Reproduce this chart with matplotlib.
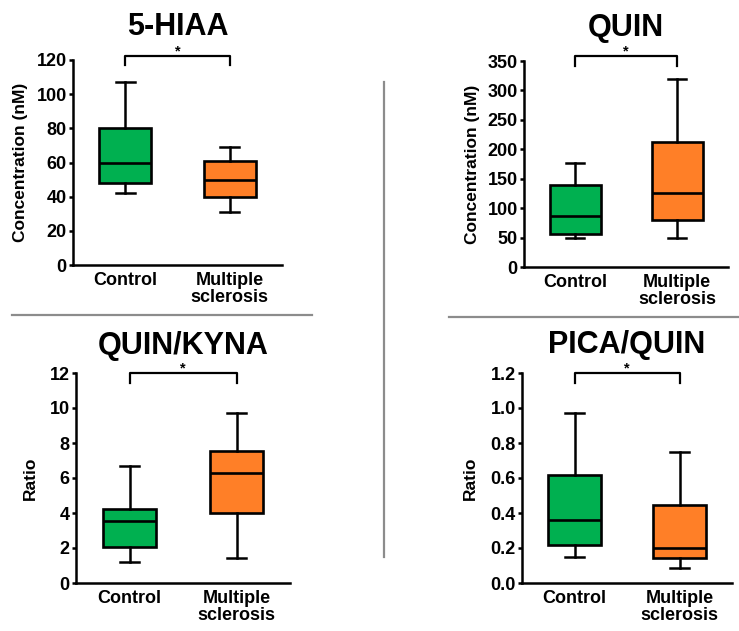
import matplotlib
matplotlib.use("Agg")
import matplotlib.pyplot as plt
from matplotlib.lines import Line2D
import matplotlib.transforms as mtransforms

plt.rcParams['font.family'] = ['Liberation Sans', 'DejaVu Sans']
plt.rcParams['font.weight'] = 'bold'

# ===== DONNEES ===== #
groups = ["Control", "Multiple\nsclerosis"]
colors = ["#00B050", "#FF7F27"]

titles = ["5-HIAA", "QUIN", "QUIN/KYNA", "PICA/QUIN"]
ylabels = ["Concentration (nM)", "Concentration (nM)", "Ratio", "Ratio"]
yticks = [
    [0, 20, 40, 60, 80, 100, 120],
    [0, 50, 100, 150, 200, 250, 300, 350],
    [0, 2, 4, 6, 8, 10, 12],
    [0.0, 0.2, 0.4, 0.6, 0.8, 1.0, 1.2],
]
ytick_fmt = ["{:.0f}", "{:.0f}", "{:.0f}", "{:.1f}"]

# whisker low, Q1, median, Q3, whisker high  -> [control, sclerose]
hiaa = [[42, 48, 60, 80, 107], [31, 40, 50, 61, 69]]
quin = [[50, 56, 87, 139, 177], [50, 80, 125, 213, 320]]
quin_kyna = [[1.2, 2.05, 3.55, 4.25, 6.7], [1.45, 4.0, 6.3, 7.55, 9.7]]
pica_quin = [[0.15, 0.22, 0.36, 0.62, 0.97], [0.085, 0.145, 0.2, 0.445, 0.75]]
datasets = [hiaa, quin, quin_kyna, pica_quin]

# ===== FIGURE ===== #
W, H = 739, 631
fig = plt.figure(figsize=(W / 100, H / 100), dpi=100)

# (gauche, droite, haut, bas) en pixels
boxes_px = [(73, 282, 60, 265), (524, 728, 61, 267),
            (76, 290, 373, 583), (522, 732, 373, 583)]
title_pad = [18, 18, 13.5, 14.5]
ylab_x = [-0.215, -0.216, -0.18, -0.21]
bracket_up = [4.5, 5, 0, 0]   # hauteur du crochet au-dessus des axes (px)


def make_panel(k):
    l, r, t, b = boxes_px[k]
    ax = fig.add_axes([l / W, (H - b) / H, (r - l) / W, (b - t) / H])

    stats = []
    for g, vals in enumerate(datasets[k]):
        lo, q1, med, q3, hi = vals
        stats.append(dict(whislo=lo, q1=q1, med=med, q3=q3, whishi=hi,
                          fliers=[], label=groups[g]))
    bp = ax.bxp(stats, positions=[1, 2], widths=0.5, patch_artist=True,
                showfliers=False, capwidths=0.18,
                boxprops=dict(linewidth=1.9, edgecolor="black"),
                medianprops=dict(color="black", linewidth=1.9),
                whiskerprops=dict(color="black", linewidth=1.8),
                capprops=dict(color="black", linewidth=1.8))
    for patch, c in zip(bp["boxes"], colors):
        patch.set_facecolor(c)

    ax.set_xlim(0.5, 2.5)
    ax.set_ylim(yticks[k][0], yticks[k][-1])
    ax.set_yticks(yticks[k])
    ax.set_yticklabels([ytick_fmt[k].format(v) for v in yticks[k]])
    ax.tick_params(axis="y", labelsize=13, length=3, width=1.8, pad=1.5)
    ax.tick_params(axis="x", labelsize=13, length=0, pad=5)
    for lab in ax.get_xticklabels():
        lab.set_linespacing(1.0)

    for s in ["top", "right"]:
        ax.spines[s].set_visible(False)
    for s in ["left", "bottom"]:
        ax.spines[s].set_linewidth(1.8)

    ax.set_ylabel(ylabels[k], fontsize=12.5, fontweight="bold")
    ax.yaxis.set_label_coords(ylab_x[k], 0.5)
    ax.set_title(titles[k], fontsize=22, fontweight="bold", pad=title_pad[k])

    # crochet de significativite
    trans = mtransforms.blended_transform_factory(ax.transData, ax.transAxes)
    hpx = b - t
    y_top = 1 + bracket_up[k] / hpx
    y_bot = y_top - 9.5 / hpx
    ax.plot([1, 1, 2, 2], [y_bot, y_top, y_top, y_bot], color="black",
            linewidth=1.6, transform=trans, clip_on=False)
    ax.text(1.5, y_top + 0.5 / hpx, "*", transform=trans, ha="center",
            va="baseline", fontsize=10.5, fontweight="bold")
    return ax


for k in range(4):
    make_panel(k)

# lignes de separation grises
sep = dict(color="#8c8c8c", linewidth=1.6)
for (x0, x1, y0, y1) in [(12, 312, 315, 315), (449, 739, 317, 317),
                         (384, 384, 82, 557)]:
    fig.add_artist(Line2D([x0 / W, x1 / W], [1 - y0 / H, 1 - y1 / H],
                          transform=fig.transFigure, **sep))

fig.savefig("out.png", dpi=100)
